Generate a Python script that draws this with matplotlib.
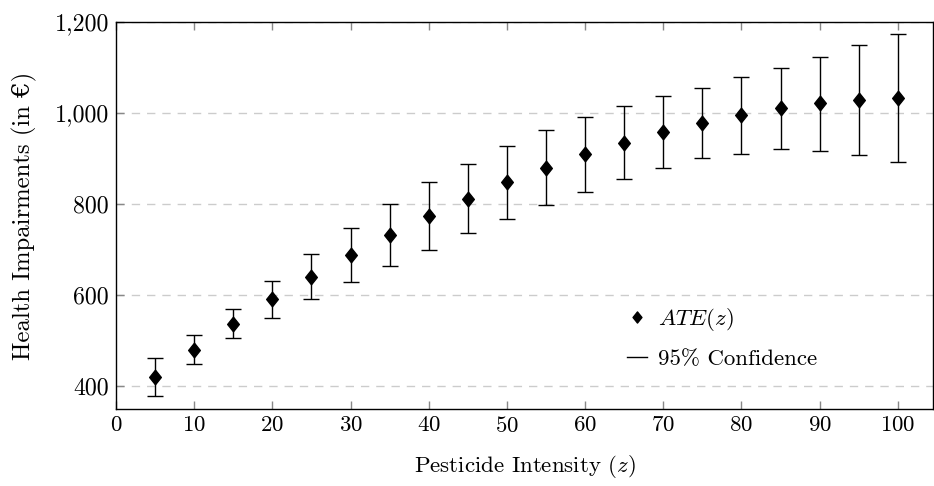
import matplotlib
matplotlib.use("Agg")
import matplotlib.pyplot as plt
from matplotlib.ticker import FuncFormatter, MultipleLocator
from matplotlib.lines import Line2D
from matplotlib.path import Path

z = [5, 10, 15, 20, 25, 30, 35, 40, 45, 50, 55, 60, 65, 70, 75, 80, 85, 90, 95, 100]
ate = [421, 480, 537, 591, 641, 688, 732, 774, 812, 848, 880, 909, 935, 959, 979, 996, 1011, 1021, 1029, 1034]
upper = [463, 512, 569, 631, 691, 748, 801, 849, 889, 928, 962, 992, 1016, 1038, 1056, 1080, 1098, 1124, 1150, 1174]
lower = [378, 449, 505, 550, 591, 629, 665, 700, 737, 768, 798, 827, 855, 880, 902, 911, 922, 917, 908, 893]

plt.rcParams['font.family'] = ['cmr10', 'DejaVu Serif']
plt.rcParams['mathtext.fontset'] = 'cm'
plt.rcParams['axes.formatter.use_mathtext'] = True

diamond = Path([(0, -1), (0.8, 0), (0, 1), (-0.8, 0), (0, -1)],
               [Path.MOVETO, Path.LINETO, Path.LINETO, Path.LINETO, Path.CLOSEPOLY])

FS = 16.5
fig = plt.figure(figsize=(9.34, 4.86), dpi=100)
ax = fig.add_axes([116/934, 1 - 409/486, (933 - 116)/934, (409 - 22)/486])

err_lo = [a - l for a, l in zip(ate, lower)]
err_hi = [u - a for a, u in zip(ate, upper)]
ax.errorbar(z, ate, yerr=[err_lo, err_hi], fmt='none', ecolor='black', elinewidth=1.0,
            capsize=5.8, capthick=1.0, zorder=3)
ax.plot(z, ate, linestyle='none', marker=diamond, markersize=10.5, color='black', zorder=4)

ax.set_xlim(0, 104.5)
ax.set_ylim(350, 1200)
ax.xaxis.set_major_locator(MultipleLocator(10))
ax.set_yticks([400, 600, 800, 1000, 1200])
ax.yaxis.set_major_formatter(FuncFormatter(lambda v, p: f"{int(v):,}"))
ax.grid(axis='y', linestyle=(0, (6, 5)), color='#cccccc', linewidth=1.0)
ax.set_axisbelow(True)

ax.tick_params(axis='both', direction='in', length=6, width=1.0, color='#888888',
               labelsize=FS, top=True, right=False, pad=5)
ax.tick_params(axis='y', labelsize=17.2)
for s in ax.spines.values():
    s.set_linewidth(1.0)

ax.set_xlabel('Pesticide Intensity ($z$)', fontsize=FS, labelpad=12)
ax.set_ylabel('Health Impairments (in €)', fontsize=17.8, labelpad=13)

handles = [Line2D([], [], linestyle='none', marker=diamond, markersize=8, color='black'),
           Line2D([], [], color='black', linewidth=1.0)]
leg = ax.legend(handles, ['$ATE(z)$', '95% Confidence'], loc='lower left',
                bbox_to_anchor=(0.6, 0.05), frameon=False, fontsize=FS,
                handlelength=0.9, handletextpad=0.45, labelspacing=0.7)

fig.savefig('out.png', dpi=100)
